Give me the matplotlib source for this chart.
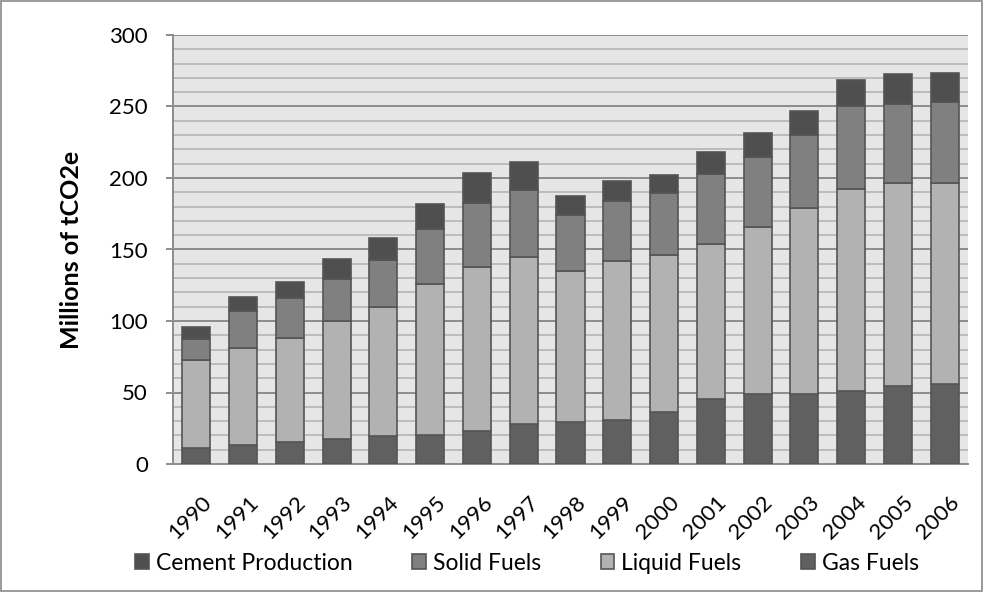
import numpy as np
from matplotlib import pyplot as plt
from matplotlib.ticker import MultipleLocator
from matplotlib.transforms import ScaledTranslation

plt.rcParams['font.family'] = ['Lato', 'DejaVu Sans']

# years and emissions by source, millions of tCO2e
years = [str(y) for y in range(1990, 2007)]
gas_fuels = [10.9, 13.5, 15.1, 17.7, 19.3, 20.5, 23.1, 28.2, 29.6, 31.0,
             36.1, 45.4, 49.3, 49.3, 50.7, 54.7, 55.9]
liquid_fuels = [62.0, 67.5, 72.9, 82.0, 90.8, 105.5, 115.0, 116.7, 105.7, 111.3,
                109.9, 108.6, 116.7, 129.8, 141.7, 141.7, 140.5]
solid_fuels = [14.4, 26.1, 28.4, 29.8, 32.9, 38.2, 44.7, 47.0, 39.1, 41.7,
               43.4, 48.6, 48.7, 51.2, 58.0, 55.4, 56.6]
cement = [8.6, 10.0, 11.2, 14.2, 15.1, 17.9, 20.5, 19.6, 13.1, 14.0,
          12.6, 15.4, 16.6, 16.8, 17.9, 20.7, 20.7]

fig = plt.figure(figsize=(9.84, 5.92), dpi=100)
ax = fig.add_axes([173 / 984, 1 - 464 / 592, (968 - 173) / 984, (464 - 35) / 592])
ax.set_facecolor('#e6e6e6')

# figure border
fig.patches.append(plt.Rectangle((0.001, 0.001), 0.997, 0.997, transform=fig.transFigure,
                                 fill=False, edgecolor='#8a8a8a', linewidth=1.2))

x = np.arange(len(years))
w = 0.6
edge = '#555555'

bottom = np.zeros(len(years))
stack = [(gas_fuels, '#606060'), (liquid_fuels, '#b2b2b2'),
         (solid_fuels, '#808080'), (cement, '#4f4f4f')]
bars = []
for vals, col in stack:
    b = ax.bar(x, vals, w, bottom=bottom, color=col, edgecolor=edge, linewidth=1.2, zorder=3)
    bars.append(b)
    bottom += np.array(vals)

ax.set_xlim(-0.5, len(years) - 0.5)
ax.set_ylim(0, 300)
ax.yaxis.set_major_locator(MultipleLocator(50))
ax.yaxis.set_minor_locator(MultipleLocator(10))
ax.grid(which='minor', axis='y', color='#b4b4b4', linewidth=1.2, zorder=0)
ax.grid(which='major', axis='y', color='#8c8c8c', linewidth=1.4, zorder=0)
ax.set_axisbelow(True)

for s in ['top', 'right']:
    ax.spines[s].set_visible(False)
ax.spines['left'].set_color('#8c8c8c')
ax.spines['left'].set_linewidth(1.4)
ax.spines['bottom'].set_color('#8c8c8c')
ax.spines['bottom'].set_linewidth(1.4)

ax.tick_params(axis='y', which='major', length=5, color='#8c8c8c', width=1.4,
               labelsize=16, pad=13)
ax.tick_params(axis='y', which='minor', length=0)
ax.tick_params(axis='x', length=0, labelsize=16, pad=20)
ax.set_xticks(x)
ax.set_xticklabels(years, rotation=45, ha='right', va='top', rotation_mode='anchor')
shift = ScaledTranslation(5 / 100, 0, fig.dpi_scale_trans)
for lbl in ax.get_xticklabels():
    lbl.set_transform(lbl.get_transform() + shift)

ax.set_ylabel('Millions of tCO2e', fontsize=18, fontweight='bold', labelpad=19)

handles = [bars[3], bars[2], bars[1], bars[0]]
labels = ['Cement Production', 'Solid Fuels', 'Liquid Fuels', 'Gas Fuels']
fig.legend(handles, labels, loc='center', bbox_to_anchor=(527 / 984, 1 - 563 / 592), ncol=4,
           frameon=False, fontsize=16.5, handlelength=0.6, handleheight=0.6,
           handletextpad=0.3, columnspacing=2.6, borderpad=0)

plt.savefig('out.png', dpi=100)
